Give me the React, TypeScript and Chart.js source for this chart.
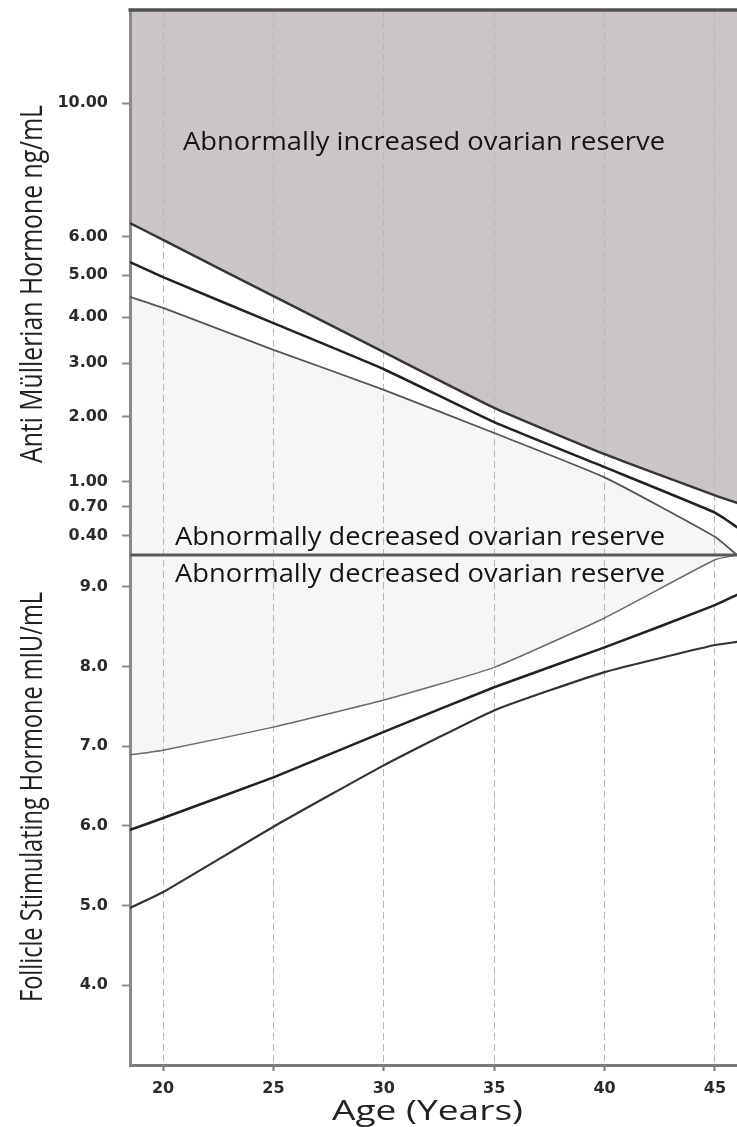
import React, { useEffect, useRef } from "react";
import { Chart, registerables, LinearScale } from "chart.js";

Chart.register(...registerables);

// ---------- data ----------
const AGES = [18.5, 20, 25, 30, 35, 40, 45, 46];
const AMH_UPPER = [6.37, 5.91, 4.49, 3.23, 2.15, 1.39, 0.83, 0.74];
const AMH_MEDIAN = [5.33, 4.95, 3.86, 2.88, 1.9, 1.2, 0.63, 0.48];
const AMH_LOWER = [4.47, 4.21, 3.28, 2.48, 1.72, 1.06, 0.39, 0.24];
const FSH_UPPER = [6.89, 6.95, 7.24, 7.58, 7.99, 8.61, 9.34, 9.4];
const FSH_MEDIAN = [5.95, 6.1, 6.61, 7.18, 7.74, 8.24, 8.77, 8.9];
const FSH_LOWER = [4.97, 5.17, 5.99, 6.76, 7.45, 7.93, 8.27, 8.31];

const AGE_TICKS = [20, 25, 30, 35, 40, 45];
const AMH_TICKS = [10, 6, 5, 4, 3, 2, 1, 0.7, 0.4];
const FSH_TICKS = [9, 8, 7, 6, 5, 4];

const TEXT_INCREASED = "Abnormally increased ovarian reserve";
const TEXT_DECREASED = "Abnormally decreased ovarian reserve";
const TITLE_AMH = "Anti Müllerian Hormone ng/mL";
const TITLE_FSH = "Follicle Stimulating Hormone mIU/mL";
const TITLE_AGE = "Age (Years)";

// ---------- power scale (nomogram-like AMH axis) ----------
const POWER = 0.6;
class PowerScale extends LinearScale {
  static id = "power";
  static defaults = {};
  powT(v: number) {
    return Math.pow(Math.max(v, 1e-9), POWER);
  }
  getPixelForValue(value: any) {
    if (value === null || value === undefined || isNaN(value)) return NaN;
    const t0 = this.powT(this.min);
    const t1 = this.powT(this.max);
    return this.getPixelForDecimal((this.powT(value) - t0) / (t1 - t0));
  }
  getValueForPixel(pixel: number) {
    const t0 = this.powT(this.min);
    const t1 = this.powT(this.max);
    return Math.pow(t0 + this.getDecimalForPixel(pixel) * (t1 - t0), 1 / POWER);
  }
}
Chart.register(PowerScale as any);

function pts(values: number[]) {
  return AGES.map((a, i) => ({ x: a, y: values[i] }));
}

function fitText(
  ctx: CanvasRenderingContext2D,
  text: string,
  x: number,
  y: number,
  width: number,
  font: string,
  rotate = false
) {
  ctx.save();
  ctx.font = font;
  ctx.textAlign = "left";
  ctx.textBaseline = "alphabetic";
  const w = ctx.measureText(text).width;
  ctx.translate(x, y);
  if (rotate) ctx.rotate(-Math.PI / 2);
  ctx.scale(width / w, 1);
  ctx.fillText(text, 0, 0);
  ctx.restore();
}

const overlay = {
  id: "overlay",
  afterDraw(chart: any) {
    const { ctx, chartArea } = chart;
    const yA = chart.scales.yAMH;
    ctx.save();
    ctx.lineCap = "butt";
    ctx.strokeStyle = "#505050";
    ctx.lineWidth = 3.5;
    ctx.beginPath();
    ctx.moveTo(chartArea.left - 1.5, chartArea.top);
    ctx.lineTo(chartArea.right, chartArea.top);
    ctx.stroke();
    ctx.strokeStyle = "#5a5a5a";
    ctx.lineWidth = 3;
    ctx.beginPath();
    ctx.moveTo(chartArea.left, yA.bottom);
    ctx.lineTo(chartArea.right, yA.bottom);
    ctx.stroke();

    const f = "'Open Sans', 'Noto Sans', sans-serif";
    ctx.fillStyle = "#141414";
    fitText(ctx, TEXT_INCREASED, 183, 150, 482, `26px ${f}`);
    fitText(ctx, TEXT_DECREASED, 175, 545, 490, `26px ${f}`);
    fitText(ctx, TEXT_DECREASED, 175, 582, 490, `26px ${f}`);
    ctx.fillStyle = "#222222";
    fitText(ctx, TITLE_AMH, 42, 463, 358, `31px ${f}`, true);
    fitText(ctx, TITLE_FSH, 42, 1002, 410, `31px ${f}`, true);
    fitText(ctx, TITLE_AGE, 332, 1120, 191, `28px ${f}`);
    ctx.restore();
  },
};

const tickFont = { family: "'DejaVu Sans', sans-serif", size: 16, weight: "bold" as const };

export default function App() {
  const ref = useRef<HTMLCanvasElement>(null);
  useEffect(() => {
    if (!ref.current) return;
    const yCommon = {
      position: "left" as const,
      stack: "panels",
      border: { display: true, color: "#8a8a8a", width: 3 },
      grid: {
        drawOnChartArea: false,
        drawTicks: true,
        tickLength: 8,
        tickColor: "#8a8a8a",
        tickWidth: 2,
      },
      afterFit: (s: any) => {
        s.width = 130;
        s.paddingTop = 0;
        s.paddingBottom = 0;
      },
    };
    const chart = new Chart(ref.current, {
      type: "line",
      data: {
        datasets: [
          {
            label: "AMH upper",
            data: pts(AMH_UPPER),
            yAxisID: "yAMH",
            borderColor: "#363636",
            borderWidth: 2.5,
            fill: "end",
            backgroundColor: "#cbc5c7",
          },
          {
            label: "AMH median",
            data: pts(AMH_MEDIAN),
            yAxisID: "yAMH",
            borderColor: "#222222",
            borderWidth: 2.5,
            fill: false,
          },
          {
            label: "AMH lower",
            data: pts(AMH_LOWER),
            yAxisID: "yAMH",
            borderColor: "#555555",
            borderWidth: 1.8,
            fill: "start",
            backgroundColor: "#f6f6f6",
          },
          {
            label: "FSH upper",
            data: pts(FSH_UPPER),
            yAxisID: "yFSH",
            borderColor: "#6a6a6a",
            borderWidth: 1.5,
            fill: "end",
            backgroundColor: "#f6f6f6",
          },
          {
            label: "FSH median",
            data: pts(FSH_MEDIAN),
            yAxisID: "yFSH",
            borderColor: "#222222",
            borderWidth: 2.5,
            fill: false,
          },
          {
            label: "FSH lower",
            data: pts(FSH_LOWER),
            yAxisID: "yFSH",
            borderColor: "#333333",
            borderWidth: 2.2,
            fill: false,
          },
        ],
      },
      options: {
        responsive: false,
        animation: false,
        devicePixelRatio: 1,
        layout: { padding: { top: 10, left: 0, right: 0, bottom: 0 } },
        elements: {
          point: { radius: 0 },
          line: { tension: 0.15, borderJoinStyle: "round", borderCapStyle: "round" },
        },
        plugins: {
          legend: { display: false },
          tooltip: { enabled: false },
          filler: { drawTime: "beforeDraw" },
        } as any,
        scales: {
          x: {
            type: "linear",
            min: 18.5,
            max: 46,
            afterBuildTicks: (s: any) => {
              s.ticks = AGE_TICKS.map((v) => ({ value: v }));
            },
            afterFit: (s: any) => {
              s.height = 62;
              s.paddingLeft = 0;
              s.paddingRight = 0;
            },
            grid: {
              color: "#b8b8b8",
              lineWidth: 1,
              drawTicks: true,
              tickLength: 6,
              tickColor: "#777777",
              tickWidth: 2,
              tickBorderDash: [],
            },
            border: { display: true, color: "#7a7a7a", width: 3, dash: [7, 4] },
            ticks: { font: tickFont, color: "#2b2b2b", padding: 8, maxRotation: 0, autoSkip: false },
          },
          yAMH: {
            ...yCommon,
            type: "power",
            min: 0.24,
            max: 13.25,
            stackWeight: 545,
            weight: 2,
            afterBuildTicks: (s: any) => {
              s.ticks = AMH_TICKS.map((v) => ({ value: v }));
            },
            ticks: {
              font: tickFont,
              color: "#2b2b2b",
              padding: 14,
              autoSkip: false,
              callback: (v: any) => Number(v).toFixed(2),
            },
          },
          yFSH: {
            ...yCommon,
            type: "linear",
            min: 3.0,
            max: 9.4,
            stackWeight: 510,
            weight: 1,
            afterBuildTicks: (s: any) => {
              s.ticks = FSH_TICKS.map((v) => ({ value: v }));
            },
            ticks: {
              font: tickFont,
              color: "#2b2b2b",
              padding: 14,
              autoSkip: false,
              callback: (v: any) => Number(v).toFixed(1),
            },
          },
        } as any,
      },
      plugins: [overlay],
    });
    return () => chart.destroy();
  }, []);
  return (
    <div style={{ position: "absolute", left: 0, top: 0, width: 737, height: 1127, background: "#fff" }}>
      <canvas ref={ref} width={737} height={1127} style={{ display: "block", width: 737, height: 1127 }} />
    </div>
  );
}
